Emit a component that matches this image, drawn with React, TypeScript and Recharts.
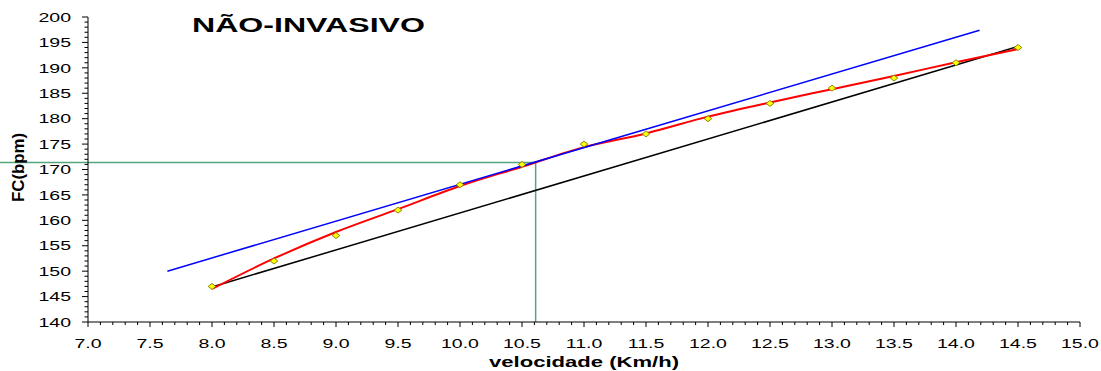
import { ComposedChart, Line, Scatter, XAxis, YAxis, ReferenceLine } from "recharts";

// velocidade (km/h) e FC medida (pontos amarelos)
const velocidade = [8.0, 8.5, 9.0, 9.5, 10.0, 10.5, 11.0, 11.5, 12.0, 12.5, 13.0, 13.5, 14.0, 14.5];
const fcMedida = [147, 152, 157, 162, 167, 171, 175, 177, 180, 183, 186, 188, 191, 194];
// curva ajustada (vermelha)
const fcAjuste = [146.5, 152.5, 157.7, 162.2, 166.75, 170.55, 174.4, 177.1, 180.4, 183.2, 185.8, 188.4, 191.1, 193.7];
// reta azul (tangente) e reta preta (primeiro-último ponto)
const tangenteX = [7.64, 14.19];
const tangenteY = [150.0, 197.4];
const retaX = [8.0, 14.5];
const retaY = [146.9, 194.2];
// limiar (linhas verdes)
const limiarV = 10.61;
const limiarFC = 171.4;
const inicioVerde = 6.29;

const xTicks = [7.0, 7.5, 8.0, 8.5, 9.0, 9.5, 10.0, 10.5, 11.0, 11.5, 12.0, 12.5, 13.0, 13.5, 14.0, 14.5, 15.0];
const yTicks = [140, 145, 150, 155, 160, 165, 170, 175, 180, 185, 190, 195, 200];
const xMinor = Array.from({ length: 81 }, (_, i) => +(7 + i * 0.1).toFixed(1));
const yMinor = Array.from({ length: 61 }, (_, i) => 140 + i);

const pontos = velocidade.map((v, i) => ({ x: v, y: fcMedida[i] }));
const ajuste = velocidade.map((v, i) => ({ x: v, y: fcAjuste[i] }));
const tangente = tangenteX.map((v, i) => ({ x: v, y: tangenteY[i] }));
const reta = retaX.map((v, i) => ({ x: v, y: retaY[i] }));

const FONT = "'Liberation Sans', Arial, sans-serif";
const VERDE = "#55a67e";

const XTick = (props: any) => {
  const { x, y, payload } = props;
  const v = payload.value;
  const major = xTicks.some((t) => Math.abs(t - v) < 1e-6);
  return (
    <g>
      <line x1={x} x2={x} y1={y} y2={y + (major ? 5 : 3)} stroke="#000" strokeWidth={1} />
      {major && (
        <g transform={`translate(${x},${y + 26})`}>
          <text transform="scale(1.5,1)" textAnchor="middle" fontSize={13} fontFamily={FONT} fill="#000">
            {v.toFixed(1)}
          </text>
        </g>
      )}
    </g>
  );
};

const YTick = (props: any) => {
  const { x, y, payload } = props;
  const v = payload.value;
  const major = yTicks.includes(v);
  return (
    <g>
      <line x1={x - (major ? 6 : 3.5)} x2={x} y1={y} y2={y} stroke="#000" strokeWidth={1} />
      {major && (
        <g transform={`translate(${x - 17},${y})`}>
          <text transform="scale(1.5,1)" textAnchor="end" dy="0.36em" fontSize={13} fontFamily={FONT} fill="#000">
            {v}
          </text>
        </g>
      )}
    </g>
  );
};

const Diamond = (props: any) => {
  const { cx, cy } = props;
  return (
    <polygon
      points={`${cx},${cy - 3} ${cx + 3.8},${cy} ${cx},${cy + 3} ${cx - 3.8},${cy}`}
      fill="#ffff00"
      stroke="#7a7a00"
      strokeWidth={0.9}
    />
  );
};

export default function App() {
  return (
    <div style={{ position: "absolute", left: 0, top: 0, width: 1101, height: 371, background: "#fff" }}>
      <ComposedChart width={1101} height={371} margin={{ top: 17, right: 21, bottom: 0, left: 0 }}>
        <XAxis
          dataKey="x"
          type="number"
          domain={[7, 15]}
          ticks={xMinor}
          interval={0}
          allowDataOverflow
          height={49}
          tickSize={0}
          tickMargin={0}
          tickLine={false}
          axisLine={{ stroke: "#000" }}
          tick={<XTick />}
        />
        <YAxis
          dataKey="y"
          type="number"
          domain={[140, 200]}
          ticks={yMinor}
          interval={0}
          allowDataOverflow
          width={88}
          tickSize={0}
          tickMargin={0}
          tickLine={false}
          axisLine={{ stroke: "#000" }}
          tick={<YTick />}
        />
        <ReferenceLine
          segment={[{ x: inicioVerde, y: limiarFC }, { x: limiarV, y: limiarFC }]}
          stroke={VERDE}
          strokeWidth={1.5}
          ifOverflow="visible"
        />
        <ReferenceLine
          segment={[{ x: limiarV, y: limiarFC }, { x: limiarV, y: 140 }]}
          stroke={VERDE}
          strokeWidth={1.5}
          ifOverflow="visible"
        />
        <Line data={reta} dataKey="y" type="linear" stroke="#000" strokeWidth={1.5} dot={false} isAnimationActive={false} />
        <Line data={ajuste} dataKey="y" type="monotone" stroke="#ff0000" strokeWidth={2} dot={false} isAnimationActive={false} />
        <Line data={tangente} dataKey="y" type="linear" stroke="#0000ff" strokeWidth={1.5} dot={false} isAnimationActive={false} />
        <Scatter data={pontos} dataKey="y" shape={<Diamond />} isAnimationActive={false} />
      </ComposedChart>
      <svg width={1101} height={371} style={{ position: "absolute", left: 0, top: 0, pointerEvents: "none" }}>
        <text x={192} y={32} fontSize={20} fontWeight="bold" fontFamily={FONT} textLength={233} lengthAdjust="spacingAndGlyphs">
          NÃO-INVASIVO
        </text>
        <text x={489} y={367} fontSize={14} fontWeight="bold" fontFamily={FONT} textLength={190} lengthAdjust="spacingAndGlyphs">
          velocidade (Km/h)
        </text>
        <text
          transform="translate(24,202) rotate(-90)"
          fontSize={16}
          fontWeight="bold"
          fontFamily={FONT}
          textLength={69}
          lengthAdjust="spacingAndGlyphs"
        >
          FC(bpm)
        </text>
      </svg>
    </div>
  );
}
